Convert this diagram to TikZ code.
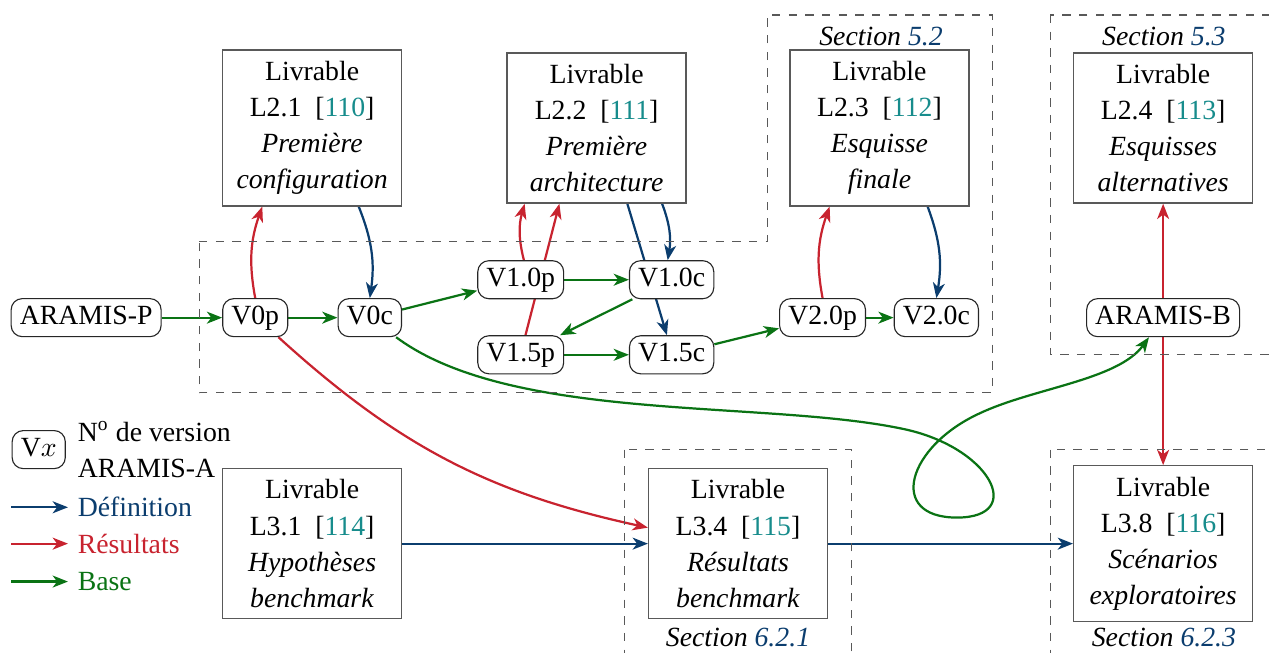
\documentclass[tikz,border=0pt]{standalone}
\usepackage{fontspec}
\setmainfont{Liberation Serif}
\usetikzlibrary{calc,arrows.meta,backgrounds}
\definecolor{defblue}{HTML}{0B3D6E}
\definecolor{resred}{HTML}{C8232F}
\definecolor{basegreen}{HTML}{0A7314}
\definecolor{citeteal}{HTML}{178C8C}

\begin{document}
\begin{tikzpicture}[
  livrable/.style={draw=black!65, fill=white, line width=0.5pt, inner sep=4pt,
                   text width=56.4pt, align=center, font=\fontsize{10}{13}\selectfont},
  version/.style={draw=black!85, fill=white, rounded corners=4pt,
                  inner xsep=3.1pt, inner ysep=2.25pt, text height=7pt,
                  text depth=2.2pt, font=\fontsize{10}{13}\selectfont},
  sectionbox/.style={draw=black!65, dashed},
  seclabel/.style={font=\itshape\fontsize{10}{13}\selectfont},
  legtext/.style={anchor=west, align=left, font=\fontsize{10}{13}\selectfont},
  link/.style={line width=0.8pt, -{Stealth[length=5.5pt,width=4.3pt,inset=1.6pt]}},
  defedge/.style={link, defblue},
  resedge/.style={link, resred},
  baseedge/.style={link, basegreen},
]
\useasboundingbox (0,0) rectangle (16.06,-8.26);
\clip (0,0) rectangle (16.06,-8.26);

% Sections (dashed frames)
\draw[sectionbox] (2.52,-3.06) -- (9.71,-3.06) -- (9.71,-0.19) -- (12.56,-0.19)
  -- (12.56,-4.97) -- (2.52,-4.97) -- cycle;
\draw[sectionbox] (13.29,-0.19) rectangle (16.5,-4.49);
\draw[sectionbox] (7.9,-5.69) rectangle (10.78,-8.9);
\draw[sectionbox] (13.29,-5.69) rectangle (16.5,-8.9);

\node[seclabel] (s52) at (11.15,-0.46) {Section \textcolor{defblue}{5.2}};
\node[seclabel] (s53) at (14.73,-0.46) {Section \textcolor{defblue}{5.3}};
\node[seclabel] (s621) at (9.34,-8.07) {Section \textcolor{defblue}{6.2.1}};
\node[seclabel] (s623) at (14.73,-8.07) {Section \textcolor{defblue}{6.2.3}};

% Row 1: livrables L2.x
\node[livrable] (L21) at (3.95,-1.62)
  {Livrable\\L2.1\enspace[\textcolor{citeteal}{110}]\\\textit{Première}\\\textit{configuration}};
\node[livrable] (L22) at (7.55,-1.62)
  {Livrable\\L2.2\enspace[\textcolor{citeteal}{111}]\\\textit{Première}\\\textit{architecture}};
\node[livrable] (L23) at (11.13,-1.62)
  {Livrable\\L2.3\enspace[\textcolor{citeteal}{112}]\\\textit{Esquisse}\\\textit{finale}};
\node[livrable] (L24) at (14.72,-1.62)
  {Livrable\\L2.4\enspace[\textcolor{citeteal}{113}]\\\textit{Esquisses}\\\textit{alternatives}};

% Row 2: versions
\node[version] (ARAMISP) at (1.09,-4.02) {ARAMIS-P};
\node[version] (V0p) at (3.23,-4.02) {V0p};
\node[version] (V0c) at (4.68,-4.02) {V0c};
\node[version] (V10p) at (6.59,-3.54) {V1.0p};
\node[version] (V10c) at (8.50,-3.54) {V1.0c};
\node[version] (V15p) at (6.59,-4.49) {V1.5p};
\node[version] (V15c) at (8.50,-4.49) {V1.5c};
\node[version] (V20p) at (10.41,-4.02) {V2.0p};
\node[version] (V20c) at (11.85,-4.02) {V2.0c};
\node[version] (ARAMISB) at (14.72,-4.02) {ARAMIS-B};

% Row 3: livrables L3.x
\node[livrable] (L31) at (3.95,-6.88)
  {Livrable\\L3.1\enspace[\textcolor{citeteal}{114}]\\\textit{Hypothèses}\\\textit{benchmark}};
\node[livrable] (L34) at (9.34,-6.88)
  {Livrable\\L3.4\enspace[\textcolor{citeteal}{115}]\\\textit{Résultats}\\\textit{benchmark}};
\node[livrable] (L38) at (14.72,-6.88)
  {Livrable\\L3.8\enspace[\textcolor{citeteal}{116}]\\\textit{Scénarios}\\\textit{exploratoires}};

% Legend
\node[version] (legv) at (0.49,-5.69) {V$x$};
\node[legtext] (legvtext) at (0.86,-5.69) {N\textsuperscript{o} de version\\ARAMIS-A};
\coordinate (ldef0) at (0.14,-6.42);
\coordinate (lres0) at (0.14,-6.88);
\coordinate (lbase0) at (0.14,-7.36);
\node[legtext, text=defblue] (ldef) at (0.86,-6.42) {Définition};
\node[legtext, text=resred] (lres) at (0.86,-6.88) {Résultats};
\node[legtext, text=basegreen] (lbase) at (0.86,-7.36) {Base};

\begin{scope}[on background layer]
% Définition
\draw[defedge] (ldef0) -- (ldef);
\draw[defedge] ($(L21.south west)+(1.73,0)$) to[bend left=15] (V0c.north);
\draw[defedge] ($(L22.south west)+(1.97,0)$) to[bend left=15] ($(V10c.north)+(-0.05,0)$);
\draw[defedge] ($(L22.south west)+(1.53,0)$) -- ($(V15c.north)+(-0.06,0)$);
\draw[defedge] ($(L23.south west)+(1.75,0)$) to[bend left=15] (V20c.north);
\draw[defedge] (L31) -- (L34);
\draw[defedge] (L34) -- (L38);

% Résultats
\draw[resedge] (lres0) -- (lres);
\draw[resedge] (V0p.north) to[bend left=15] ($(L21.south west)+(0.51,0)$);
\draw[resedge] ($(V10p.north)+(0.04,0)$) to[bend left=15] ($(L22.south west)+(0.23,0)$);
\draw[resedge] ($(V15p.north)+(0.06,0)$) -- ($(L22.south west)+(0.67,0)$);
\draw[resedge] (V20p.north) to[bend left=15] ($(L23.south west)+(0.51,0)$);
\draw[resedge] (ARAMISB) -- (L24);
\draw[resedge] (ARAMISB) -- (L38);
\draw[resedge] (V0p) to[bend right=15] (L34);

% Base
\draw[baseedge] (lbase0) -- (lbase);
\draw[baseedge] (ARAMISP) -- (V0p);
\draw[baseedge] (V0p) -- (V0c);
\draw[baseedge] (V0c) -- (V10p);
\draw[baseedge] (V10p) -- (V10c);
\draw[baseedge] (V10c) -- (V15p);
\draw[baseedge] (V15p) -- (V15c);
\draw[baseedge] (V15c) -- (V20p);
\draw[baseedge] (V20p) -- (V20c);
\draw[baseedge] (V0c) .. controls (6.47,-5.35) and (9.62,-5.06) .. (11.39,-5.42)
  .. controls (12.53,-5.64) and (13.0,-6.55) .. (12.11,-6.55)
  .. controls (11.22,-6.55) and (11.48,-5.65) .. (12.4,-5.23)
  .. controls (13.08,-4.91) and (14.15,-4.81) .. (ARAMISB);
\end{scope}

\end{tikzpicture}
\end{document}
